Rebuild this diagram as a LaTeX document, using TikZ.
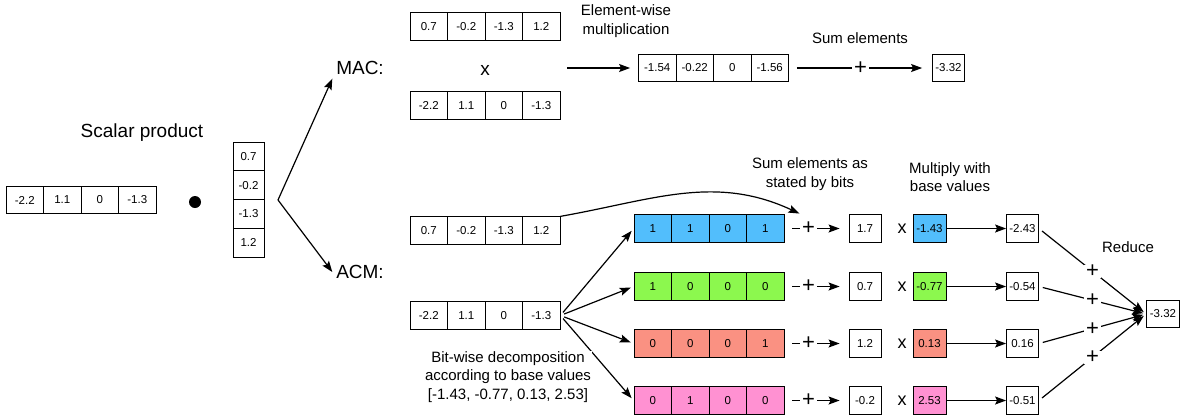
\documentclass[tikz,border=0pt]{standalone}
\usepackage{fontspec}
\setmainfont{Liberation Sans}
\usepackage{tikz}
\usetikzlibrary{positioning}
\usetikzlibrary{arrows.meta}

\definecolor{bitblue}{RGB}{82,190,252}
\definecolor{bitgreen}{RGB}{140,248,78}
\definecolor{bitred}{RGB}{250,145,130}
\definecolor{bitpink}{RGB}{255,145,210}

\tikzset{
  cell/.style={draw, line width=0.8pt, minimum width=37.5pt, minimum height=27.5pt,
    inner sep=0pt, font=\fontsize{11.5}{13}\selectfont},
  num/.style={cell, minimum width=32pt},
  lbl/.style={align=center, font=\fontsize{15}{18.5}\selectfont},
  big/.style={font=\fontsize{19}{22}\selectfont},
  plus/.style={fill=white, inner xsep=2pt, inner ysep=0pt, font=\fontsize{22}{22}\selectfont},
}

% a row of four cells: name, left edge, centre y, fill, values
\newcommand{\cells}[5]{%
  \foreach \val [count=\k] in {#5}
    \node[cell, fill=#4] (#1-\k) at ({#2+(\k-0.5)*37.5}, #3) {\val};}

\begin{document}
\begin{tikzpicture}[x=1pt, y=-1pt, line width=1.2pt, ->, >={Stealth[length=11pt,width=8pt,inset=2pt]}]
  \useasboundingbox (0,0) rectangle (1190,416);

  % scalar product
  \node[big] (title) at (142,133) {Scalar product};
  \cells{u}{6}{200}{white}{-2.2,1.1,0,-1.3}
  \fill[black] (195,202) circle (6);
  \foreach \val [count=\k] in {0.7,-0.2,-1.3,1.2}
    \node[cell, minimum width=31pt, minimum height=28.75pt] (w-\k) at (248.5, {142+(\k-0.5)*28.75}) {\val};
  \coordinate (split) at (278,200);
  \node[big] (mac) at (360,68) {MAC:};
  \node[big] (acm) at (360,272) {ACM:};
  \draw (split) -- (mac.south west);
  \draw (split) -- (acm.west);

  % MAC
  \cells{ma}{410}{26.5}{white}{0.7,-0.2,-1.3,1.2}
  \node[big] (mtimes) at (485,70) {x};
  \cells{mb}{410}{105.5}{white}{-2.2,1.1,0,-1.3}
  \node[lbl] (ewm) at (626,21) {Element-wise\\multiplication};
  \cells{mp}{638.5}{68}{white}{-1.54,-0.22,0,-1.56}
  \node[lbl] (sumel) at (860,38) {Sum elements};
  \node[num] (mres) at (948.5,68) {-3.32};
  \draw[shorten <=7pt, shorten >=8pt] (mp-1.west -| ma-4.east) -- (mp-1.west);
  \draw[shorten <=8pt, shorten >=10pt] (mp-4.east) -- node[plus] (mplus) {+} (mres.west);

  % ACM
  \cells{aa}{410}{230.5}{white}{0.7,-0.2,-1.3,1.2}
  \cells{ab}{410}{315.5}{white}{-2.2,1.1,0,-1.3}
  \node[lbl] (sbits) at (810,174) {Sum elements as\\stated by bits};
  \node[lbl] (mbase) at (950,177) {Multiply with\\base values};
  \node[lbl] (reduce) at (1128,247) {Reduce};
  \node[num, minimum width=33pt] (fin) at (1163,314) {-3.32};

  \foreach \i/\y/\col/\p/\q/\r/\s/\sv/\bv/\rv in {
      1/228.5/bitblue/1/1/0/1/1.7/-1.43/-2.43,
      2/286.5/bitgreen/1/0/0/0/0.7/-0.77/-0.54,
      3/343.5/bitred/0/0/0/1/1.2/0.13/0.16,
      4/400.5/bitpink/0/1/0/0/-0.2/2.53/-0.51} {
    \cells{b\i}{634}{\y}{\col}{\p,\q,\r,\s}
    \node[num] (s\i) at (865,\y) {\sv};
    \node[font=\fontsize{18}{18}\selectfont] (t\i) at (902,\y) {x};
    \node[num, minimum width=33pt, fill=\col] (v\i) at (929.5,\y) {\bv};
    \node[num] (r\i) at (1022.5,\y) {\rv};
    \draw[shorten <=4pt, shorten >=3pt] (ab-4.east) -- (b\i-1.west);
    \draw[shorten <=8pt, shorten >=9pt] (b\i-4.east) -- node[plus, pos=.375] (p\i) {+} (s\i.west);
    \draw (v\i) -- (r\i);
    \draw[shorten <=4pt, shorten >=3pt] (r\i.east) -- node[plus] (q\i) {+} (fin.west);
  }
  \draw (aa-4.north east) to[out=10, in=155] ([yshift=8pt]p1.north west);
  \node[lbl, fill=white, inner sep=1pt] (bitwise) at (508,377)
    {Bit-wise decomposition\\according to base values\\{[}-1.43, -0.77, 0.13, 2.53{]}};
\end{tikzpicture}
\end{document}
